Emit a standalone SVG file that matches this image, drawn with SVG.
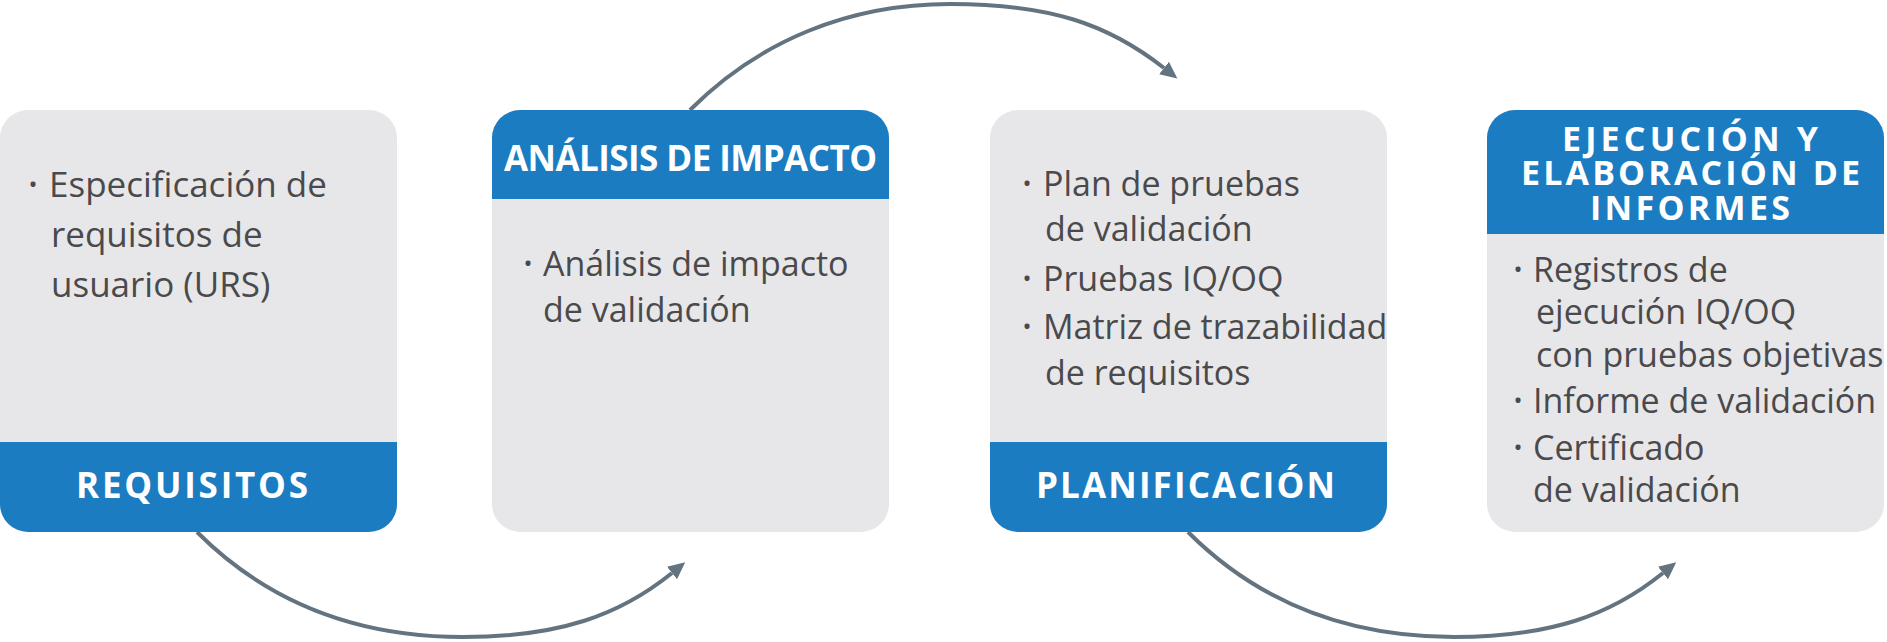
<svg xmlns="http://www.w3.org/2000/svg" width="1887" height="642" viewBox="0 0 1887 642">
<style>
.card{fill:#E7E7E9}
.band{fill:#1B7CC1}
.hd{font-family:"Open Sans","Liberation Sans",sans-serif;font-weight:700;font-size:35px;fill:#FFFFFF;text-anchor:middle}
.hd4{font-size:34px}
.bd{font-family:"Open Sans","Liberation Sans",sans-serif;font-weight:400;font-size:34px;fill:#4A4A4C}
.bd1{font-size:35px}
.bl{font-family:"Open Sans","Liberation Sans",sans-serif;font-size:24px;fill:#4A4A4C;text-anchor:middle}
.conn{fill:none;stroke:#637480;stroke-width:4}
</style>
<defs>
<marker id="ah" markerUnits="userSpaceOnUse" markerWidth="20" markerHeight="20" viewBox="0 -10 20 20" refX="0" refY="0" orient="auto">
<path d="M0,-8 L17,0 L0,8 Z" fill="#637480"/>
</marker>
</defs>
<g id="connectors">
<path class="conn" d="M197,532 C270,605 360,637 463,637 C560,637 620,615 672,573" marker-end="url(#ah)"/>
<path class="conn" d="M690,110 C760,40 850,4 950,4 C1050,4 1108,24 1164,68" marker-end="url(#ah)"/>
<path class="conn" d="M1188,532 C1261,605 1351,637 1454,637 C1551,637 1611,615 1663,573" marker-end="url(#ah)"/>
</g>
<g id="requisitos">
<rect class="card" x="0" y="110" width="397" height="422" rx="28"/>
<path class="band" d="M0,442 H397 V504 A28,28 0 0 1 369,532 H28 A28,28 0 0 1 0,504 Z"/>
<text class="bl" x="33" y="193">•</text>
<text class="bd bd1" x="49" y="197">Especificación de</text>
<text class="bd bd1" x="51" y="247">requisitos de</text>
<text class="bd bd1" x="51" y="297">usuario (URS)</text>
<text class="hd" x="192" y="498" textLength="232">REQUISITOS</text>
</g>
<g id="analisis">
<rect class="card" x="492" y="110" width="397" height="422" rx="28"/>
<path class="band" d="M492,199 V138 A28,28 0 0 1 520,110 H861 A28,28 0 0 1 889,138 V199 Z"/>
<text class="hd" x="690.5" y="171" textLength="373">ANÁLISIS DE IMPACTO</text>
<text class="bl" x="528" y="272">•</text>
<text class="bd" x="543" y="276">Análisis de impacto</text>
<text class="bd" x="543" y="322">de validación</text>
</g>
<g id="planificacion">
<rect class="card" x="990" y="110" width="397" height="422" rx="28"/>
<path class="band" d="M990,442 H1387 V504 A28,28 0 0 1 1359,532 H1018 A28,28 0 0 1 990,504 Z"/>
<text class="bl" x="1027" y="192">•</text>
<text class="bd" x="1043" y="196">Plan de pruebas</text>
<text class="bd" x="1045" y="241">de validación</text>
<text class="bl" x="1027" y="287">•</text>
<text class="bd" x="1043" y="291">Pruebas IQ/OQ</text>
<text class="bl" x="1027" y="335">•</text>
<text class="bd" x="1043" y="339">Matriz de trazabilidad</text>
<text class="bd" x="1045" y="385">de requisitos</text>
<text class="hd" x="1185.5" y="498" textLength="299">PLANIFICACIÓN</text>
</g>
<g id="ejecucion">
<rect class="card" x="1487" y="110" width="397" height="422" rx="28"/>
<path class="band" d="M1487,234 V138 A28,28 0 0 1 1515,110 H1856 A28,28 0 0 1 1884,138 V234 Z"/>
<text class="hd hd4" x="1690" y="151" textLength="256">EJECUCIÓN Y</text>
<text class="hd hd4" x="1690.5" y="185" textLength="339">ELABORACIÓN DE</text>
<text class="hd hd4" x="1690" y="220" textLength="200">INFORMES</text>
<text class="bl" x="1518" y="278">•</text>
<text class="bd" x="1533" y="282">Registros de</text>
<text class="bd" x="1536" y="324">ejecución IQ/OQ</text>
<text class="bd" x="1536" y="367">con pruebas objetivas</text>
<text class="bl" x="1518" y="409">•</text>
<text class="bd" x="1533" y="413">Informe de validación</text>
<text class="bl" x="1518" y="456">•</text>
<text class="bd" x="1533" y="460">Certificado</text>
<text class="bd" x="1533" y="502">de validación</text>
</g>
</svg>
